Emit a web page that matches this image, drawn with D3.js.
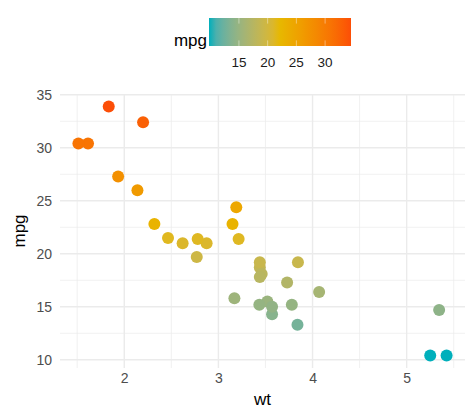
<!DOCTYPE html>
<html>
<head>
<meta charset="utf-8">
<script src="https://cdn.jsdelivr.net/npm/d3@7"></script>
<style>
  body { margin: 0; background: #fff; }
  text { font-family: "Liberation Sans", Arial, sans-serif; }
</style>
</head>
<body>
<div id="chart"></div>
<script>
/* DATA (mtcars) */
const wt = [2.620, 2.875, 2.320, 3.215, 3.440, 3.460, 3.570, 3.190, 3.150, 3.440,
  3.440, 4.070, 3.730, 3.780, 5.250, 5.424, 5.345, 2.200, 1.615, 1.835,
  2.465, 3.520, 3.435, 3.840, 3.845, 1.935, 2.140, 1.513, 3.170, 2.770,
  3.570, 2.780];
const mpg = [21.0, 21.0, 22.8, 21.4, 18.7, 18.1, 14.3, 24.4, 22.8, 19.2,
  17.8, 16.4, 17.3, 15.2, 10.4, 10.4, 14.7, 32.4, 30.4, 33.9,
  21.5, 15.5, 15.2, 13.3, 19.2, 27.3, 26.0, 30.4, 15.8, 19.7,
  15.0, 21.4];
const xTicks = [2, 3, 4, 5];
const xMinor = [1.5, 2.5, 3.5, 4.5, 5.5];
const yTicks = [10, 15, 20, 25, 30, 35];
const yMinor = [12.5, 17.5, 22.5, 27.5, 32.5];
const legendTicks = [15, 20, 25, 30];
const palette = ["#00AFBB", "#E7B800", "#FC4E07"];

const width = 474, height = 414;
const panel = { left: 60, right: 465, top: 94, bottom: 368 };

const data = wt.map((d, i) => ({ wt: d, mpg: mpg[i] }));

const svg = d3.select("#chart").append("svg")
  .attr("width", width)
  .attr("height", height);

// scales with ggplot-style 5% expansion
const xExt = d3.extent(wt), yExt = d3.extent(mpg);
const xPad = (xExt[1] - xExt[0]) * 0.05, yPad = (yExt[1] - yExt[0]) * 0.05;

const xScale = d3.scaleLinear()
  .domain([xExt[0] - xPad, xExt[1] + xPad])
  .range([panel.left, panel.right]);
const yScale = d3.scaleLinear()
  .domain([yExt[0] - yPad, yExt[1] + yPad])
  .range([panel.bottom, panel.top]);

const mpgExt = d3.extent(mpg);
const color = d3.scaleLinear()
  .domain([mpgExt[0], (mpgExt[0] + mpgExt[1]) / 2, mpgExt[1]])
  .range(palette)
  .interpolate(d3.interpolateLab);

// grid lines
const grid = svg.append("g");
grid.selectAll(".xminor").data(xMinor).join("line")
  .attr("x1", d => xScale(d)).attr("x2", d => xScale(d))
  .attr("y1", panel.top).attr("y2", panel.bottom)
  .attr("stroke", "#EBEBEB").attr("stroke-width", 0.7);
grid.selectAll(".yminor").data(yMinor).join("line")
  .attr("y1", d => yScale(d)).attr("y2", d => yScale(d))
  .attr("x1", panel.left).attr("x2", panel.right)
  .attr("stroke", "#EBEBEB").attr("stroke-width", 0.7);
grid.selectAll(".xmajor").data(xTicks).join("line")
  .attr("x1", d => xScale(d)).attr("x2", d => xScale(d))
  .attr("y1", panel.top).attr("y2", panel.bottom)
  .attr("stroke", "#EBEBEB").attr("stroke-width", 1.4);
grid.selectAll(".ymajor").data(yTicks).join("line")
  .attr("y1", d => yScale(d)).attr("y2", d => yScale(d))
  .attr("x1", panel.left).attr("x2", panel.right)
  .attr("stroke", "#EBEBEB").attr("stroke-width", 1.4);

// axes (labels only)
const xAxis = d3.axisBottom(xScale).tickValues(xTicks).tickSize(0).tickPadding(5)
  .tickFormat(d3.format("d"));
const yAxis = d3.axisLeft(yScale).tickValues(yTicks).tickSize(0).tickPadding(6)
  .tickFormat(d3.format("d"));

svg.append("g")
  .attr("transform", `translate(0, ${panel.bottom})`)
  .call(xAxis)
  .call(g => g.select(".domain").remove())
  .call(g => g.selectAll("text").attr("font-size", 14).attr("fill", "#4D4D4D")
    .attr("font-family", "Liberation Sans, Arial, sans-serif"));

svg.append("g")
  .attr("transform", `translate(${panel.left - 2}, 0)`)
  .call(yAxis)
  .call(g => g.select(".domain").remove())
  .call(g => g.selectAll("text").attr("font-size", 14).attr("fill", "#4D4D4D")
    .attr("font-family", "Liberation Sans, Arial, sans-serif"));

// axis titles
svg.append("text")
  .attr("x", (panel.left + panel.right) / 2)
  .attr("y", 405)
  .attr("text-anchor", "middle")
  .attr("font-size", 17)
  .text("wt");
svg.append("text")
  .attr("transform", `translate(25, ${(panel.top + panel.bottom) / 2}) rotate(-90)`)
  .attr("text-anchor", "middle")
  .attr("font-size", 17)
  .text("mpg");

// points
svg.append("g").selectAll("circle")
  .data(data)
  .join("circle")
  .attr("cx", d => xScale(d.wt))
  .attr("cy", d => yScale(d.mpg))
  .attr("r", 6)
  .attr("fill", d => color(d.mpg));

// legend colourbar
const bar = { x: 209, y: 18, w: 142, h: 28 };
const defs = svg.append("defs");
const grad = defs.append("linearGradient").attr("id", "mpgGrad")
  .attr("x1", "0%").attr("x2", "100%").attr("y1", "0%").attr("y2", "0%");
const legScale = d3.scaleLinear()
  .domain(mpgExt)
  .range([bar.x + 3.5, bar.x + bar.w - 3.5]);
grad.selectAll("stop")
  .data(d3.range(0, 21))
  .join("stop")
  .attr("offset", d => (d / 20 * 100) + "%")
  .attr("stop-color", d => color(mpgExt[0] + (mpgExt[1] - mpgExt[0]) * d / 20));

svg.append("rect")
  .attr("x", bar.x).attr("y", bar.y)
  .attr("width", bar.w).attr("height", bar.h)
  .attr("fill", "url(#mpgGrad)");

svg.append("g").selectAll("line")
  .data(legendTicks)
  .join("line")
  .attr("x1", d => legScale(d)).attr("x2", d => legScale(d))
  .attr("y1", bar.y).attr("y2", bar.y + bar.h)
  .attr("stroke", "#fff").attr("stroke-opacity", 0.6).attr("stroke-width", 0.7)
  .attr("stroke-dasharray", "5.6 16.8 5.6");

svg.append("g").selectAll("text")
  .data(legendTicks)
  .join("text")
  .attr("x", d => legScale(d))
  .attr("y", 67)
  .attr("text-anchor", "middle")
  .attr("font-size", 13.5)
  .attr("fill", "#1A1A1A")
  .text(d => d);

svg.append("text")
  .attr("x", 207)
  .attr("y", 46)
  .attr("text-anchor", "end")
  .attr("font-size", 17)
  .text("mpg");
</script>
</body>
</html>
